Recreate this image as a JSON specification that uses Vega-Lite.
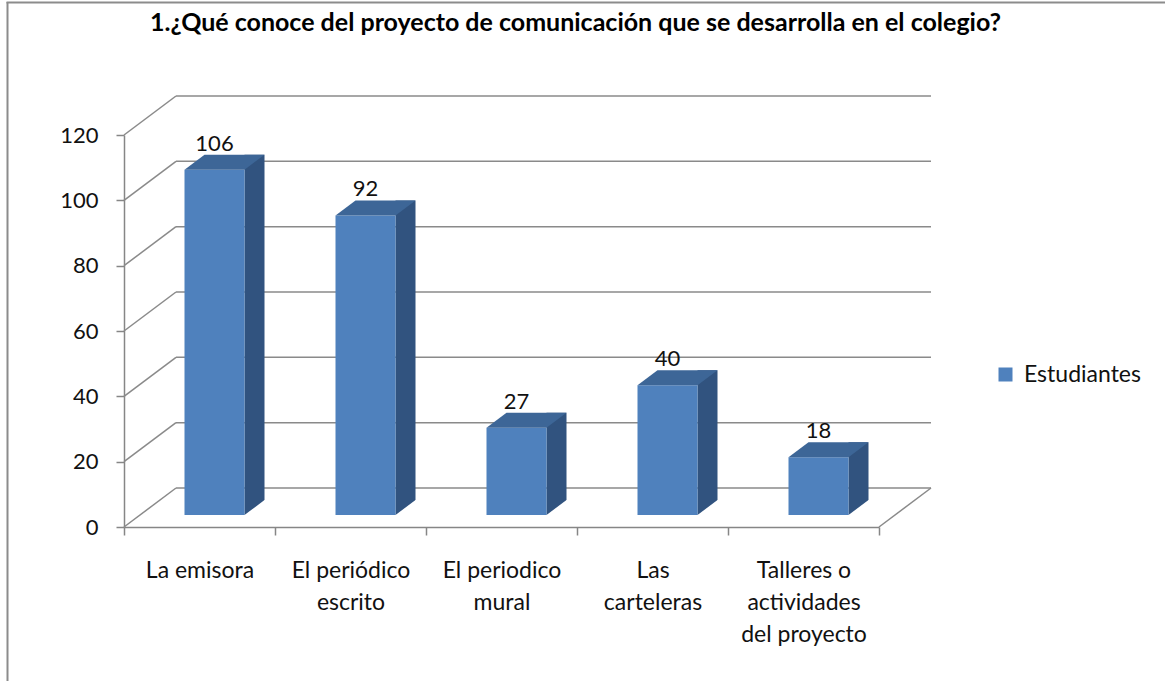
{
  "$schema": "https://vega.github.io/schema/vega-lite/v6.json",
  "autosize": {"type": "none"},
  "width": 755,
  "height": 392,
  "padding": {"left": 124, "top": 135, "right": 286, "bottom": 154},
  "background": "white",
  "config": {"view": {"stroke": null}, "font": "Lato"},
  "title": {
    "text": "1.¿Qué conoce del proyecto de comunicación que se desarrolla en el colegio?",
    "fontSize": 25,
    "fontWeight": "bold",
    "color": "#000000",
    "font": "Lato",
    "anchor": "middle",
    "frame": "group",
    "baseline": "alphabetic",
    "dx": 74,
    "offset": -55
  },
  "datasets": {
    "main": [
      {"categoria": "La emisora", "estudiantes": 106},
      {"categoria": "El periódico escrito", "estudiantes": 92},
      {"categoria": "El periodico mural", "estudiantes": 27},
      {"categoria": "Las carteleras", "estudiantes": 40},
      {"categoria": "Talleres o actividades del proyecto", "estudiantes": 18}
    ],
    "grid": [{"v": 0}, {"v": 20}, {"v": 40}, {"v": 60}, {"v": 80}, {"v": 100}, {"v": 120}]
  },
  "data": {"name": "main"},
  "encoding": {
    "x": {
      "field": "categoria",
      "type": "nominal",
      "sort": null,
      "scale": {"domain": ["La emisora", "El periódico escrito", "El periodico mural", "Las carteleras", "Talleres o actividades del proyecto"], "paddingInner": 0, "paddingOuter": 0},
      "axis": {
        "title": null,
        "labelAngle": 0,
        "labelExpr": "datum.value == 'El periódico escrito' ? ['El periódico', 'escrito'] : datum.value == 'El periodico mural' ? ['El periodico', 'mural'] : datum.value == 'Las carteleras' ? ['Las', 'carteleras'] : datum.value == 'Talleres o actividades del proyecto' ? ['Talleres o', 'actividades', 'del proyecto'] : datum.value",
        "labelFontSize": 23,
        "labelFont": "Lato",
        "labelColor": "#111111",
        "labelLineHeight": 32,
        "labelBaseline": "top",
        "labelPadding": 24,
        "labelLimit": 300,
        "tickBand": "extent",
        "tickSize": 8,
        "tickColor": "#868686",
        "tickWidth": 1.5,
        "domainColor": "#868686",
        "domainWidth": 1.5
      }
    }
  },
  "layer": [
    {
      "data": {"name": "grid"},
      "mark": {"type": "rule", "color": "#8a8a8a", "strokeWidth": 1.5, "xOffset": 52, "x2Offset": 52, "yOffset": -39},
      "encoding": {
        "x": {"datum": "La emisora", "bandPosition": 0},
        "x2": {"datum": "Talleres o actividades del proyecto", "bandPosition": 1},
        "y": {"field": "v", "type": "quantitative"}
      }
    },
    {
      "data": {"name": "grid"},
      "mark": {"type": "rule", "color": "#8a8a8a", "strokeWidth": 1.5, "x2Offset": 52, "y2Offset": -39},
      "encoding": {
        "x": {"datum": "La emisora", "bandPosition": 0},
        "x2": {"datum": "La emisora", "bandPosition": 0},
        "y": {"field": "v", "type": "quantitative"},
        "y2": {"field": "v"}
      }
    },
    {
      "data": {"name": "grid"},
      "transform": [{"filter": "datum.v == 0"}],
      "mark": {"type": "rule", "color": "#8a8a8a", "strokeWidth": 1.5, "x2Offset": 52, "y2Offset": -39},
      "encoding": {
        "x": {"datum": "Talleres o actividades del proyecto", "bandPosition": 1},
        "x2": {"datum": "Talleres o actividades del proyecto", "bandPosition": 1},
        "y": {"field": "v", "type": "quantitative"},
        "y2": {"field": "v"}
      }
    },
    {
      "data": {"name": "grid"},
      "transform": [{"filter": "datum.v == 0"}],
      "mark": {"type": "rule", "color": "#8c8c8c", "strokeWidth": 2, "xOffset": -116.5, "x2Offset": -116.5, "yOffset": -133, "y2Offset": 160},
      "encoding": {
        "x": {"datum": "La emisora", "bandPosition": 0},
        "x2": {"datum": "La emisora", "bandPosition": 0},
        "y": {"datum": 120, "type": "quantitative"},
        "y2": {"datum": 0}
      }
    },
    {
      "data": {"name": "grid"},
      "transform": [{"filter": "datum.v == 0"}],
      "mark": {"type": "rule", "color": "#8c8c8c", "strokeWidth": 2, "xOffset": -117.5, "x2Offset": 300, "yOffset": -132.5},
      "encoding": {
        "x": {"datum": "La emisora", "bandPosition": 0},
        "x2": {"datum": "Talleres o actividades del proyecto", "bandPosition": 1},
        "y": {"datum": 120, "type": "quantitative"}
      }
    },
    {
      "mark": {"type": "bar", "color": "#31537f", "width": 20, "xOffset": 55, "yOffset": -26, "y2Offset": -12},
      "encoding": {
        "y": {"field": "estudiantes", "type": "quantitative", "scale": {"domain": [0, 120], "nice": false},
          "axis": {"values": [0, 20, 40, 60, 80, 100, 120], "title": null, "grid": false, "tickSize": 8, "tickColor": "#868686", "tickWidth": 1.5, "domainColor": "#868686", "domainWidth": 1.5, "labelFontSize": 22, "labelColor": "#111111", "labelPadding": 18, "labelFont": "Lato"}},
        "y2": {"datum": 0}
      }
    },
    {
      "mark": {"type": "point", "shape": "M-1,0.75 L1,-0.75 L1.15,-0.75 L1.15,0.9 L-1,0.9 Z", "size": 400, "filled": true, "color": "#ffffff", "opacity": 1, "strokeWidth": 0, "xOffset": 55, "yOffset": -19.5},
      "encoding": {
        "y": {"datum": 0, "type": "quantitative"}
      }
    },
    {
      "mark": {"type": "bar", "width": 60, "xOffset": 15, "yOffset": -11, "y2Offset": -12},
      "encoding": {
        "y": {"field": "estudiantes", "type": "quantitative"},
        "y2": {"datum": 0},
        "color": {"datum": "Estudiantes", "type": "nominal", "scale": {"range": ["#4f81bd"]},
          "legend": {"title": null, "orient": "none", "legendX": 870, "legendY": 228, "symbolType": "square", "symbolSize": 196, "symbolStrokeWidth": 0, "labelFontSize": 23, "labelFont": "Lato", "labelColor": "#111111", "labelOffset": 7, "padding": 0}}
      }
    },
    {
      "mark": {"type": "point", "shape": "M-1,0.1875 L0.5,0.1875 L1,-0.1875 L-0.5,-0.1875 Z", "size": 6400, "filled": true, "color": "#3d6697", "opacity": 1, "strokeWidth": 0, "xOffset": 25, "yOffset": -18.5},
      "encoding": {
        "y": {"field": "estudiantes", "type": "quantitative"}
      }
    },
    {
      "mark": {"type": "text", "fontSize": 22, "font": "Lato", "color": "#111111", "align": "center", "baseline": "alphabetic", "xOffset": 15, "yOffset": -30},
      "encoding": {
        "y": {"field": "estudiantes", "type": "quantitative"},
        "text": {"field": "estudiantes", "type": "quantitative"}
      }
    }
  ]
}
